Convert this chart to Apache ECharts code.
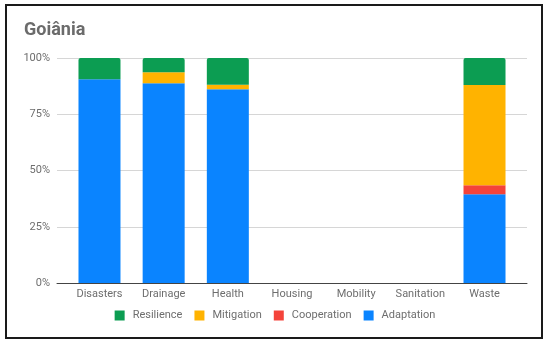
<!DOCTYPE html>
<html><head><meta charset="utf-8">
<script src="https://cdn.jsdelivr.net/npm/echarts@6/dist/echarts.min.js"></script>
<style>html,body{margin:0;padding:0;background:#fff}#c{width:550px;height:344px}</style>
</head><body><div id="c"></div>
<script>
const title = 'Goiânia';
const categories = ['Disasters','Drainage','Health','Housing','Mobility','Sanitation','Waste'];
const adaptation  = [90.6, 88.8, 86.1, 0, 0, 0, 39.4];
const cooperation = [0, 0, 0, 0, 0, 0, 4.0];
const mitigation  = [0, 4.9, 2.0, 0, 0, 0, 44.6];
const resilience  = [9.4, 6.3, 11.9, 0, 0, 0, 12.0];
const yTicks = [0, 25, 50, 75, 100];
const legendOrder = ['Resilience','Mitigation','Cooperation','Adaptation'];

const colors = {Adaptation:'#0a84ff', Cooperation:'#f4433a', Mitigation:'#ffb300', Resilience:'#0c9d52'};
const font = 'Roboto, "Noto Sans", sans-serif';
const chart = echarts.init(document.getElementById('c'), null, {renderer:'canvas'});
const mk = (name, data, top) => ({
  name, type:'bar', stack:'s', xAxisIndex:1, yAxisIndex:1, data, barWidth:42,
  itemStyle:{color:colors[name], borderRadius: top ? [2,2,0,0] : 0},
  emphasis:{disabled:true}
});
chart.setOption({
  animation:false,
  title:{text:title, left:19, top:21, padding:[0,5], textStyle:{fontFamily:font, fontSize:18, fontWeight:'bold', color:'#6b6b6b'}},
  graphic:[{type:'rect', shape:{x:6, y:5, width:536, height:333}, style:{fill:'none', stroke:'#1a1a1a', lineWidth:2}, silent:true}],
  legend:{data:legendOrder, left:'center', top:310, padding:0, icon:'rect', itemWidth:10, itemHeight:10, itemGap:12,
    textStyle:{fontFamily:font, fontSize:11, color:'#6e6e6e', padding:[0,0,0,3]}},
  grid:[
    {left:57, right:23, top:58, bottom:61},
    {left:67.4, right:33.4, top:58, bottom:61}
  ],
  xAxis:[
    {type:'value', gridIndex:0, min:0, max:1, axisLine:{show:true, lineStyle:{color:'#444', width:1}}, axisTick:{show:false}, axisLabel:{show:false}, splitLine:{show:false}},
    {type:'category', gridIndex:1, data:categories, axisLine:{show:false}, axisTick:{show:false},
      axisLabel:{fontFamily:font, fontSize:11, color:'#6e6e6e', margin:6, interval:0}}
  ],
  yAxis:[
    {type:'value', gridIndex:0, min:0, max:100, interval:25, axisLine:{show:false}, axisTick:{show:false},
      axisLabel:{fontFamily:font, fontSize:11, color:'#6e6e6e', margin:7, formatter:v=>yTicks.includes(v)?v+'%':''},
      splitLine:{lineStyle:{color:'#d6d6d6', width:1}}},
    {type:'value', gridIndex:1, min:0, max:100, show:false, splitLine:{show:false}}
  ],
  series:[
    mk('Adaptation', adaptation, false),
    mk('Cooperation', cooperation, false),
    mk('Mitigation', mitigation, false),
    mk('Resilience', resilience, true)
  ]
});
</script></body></html>
